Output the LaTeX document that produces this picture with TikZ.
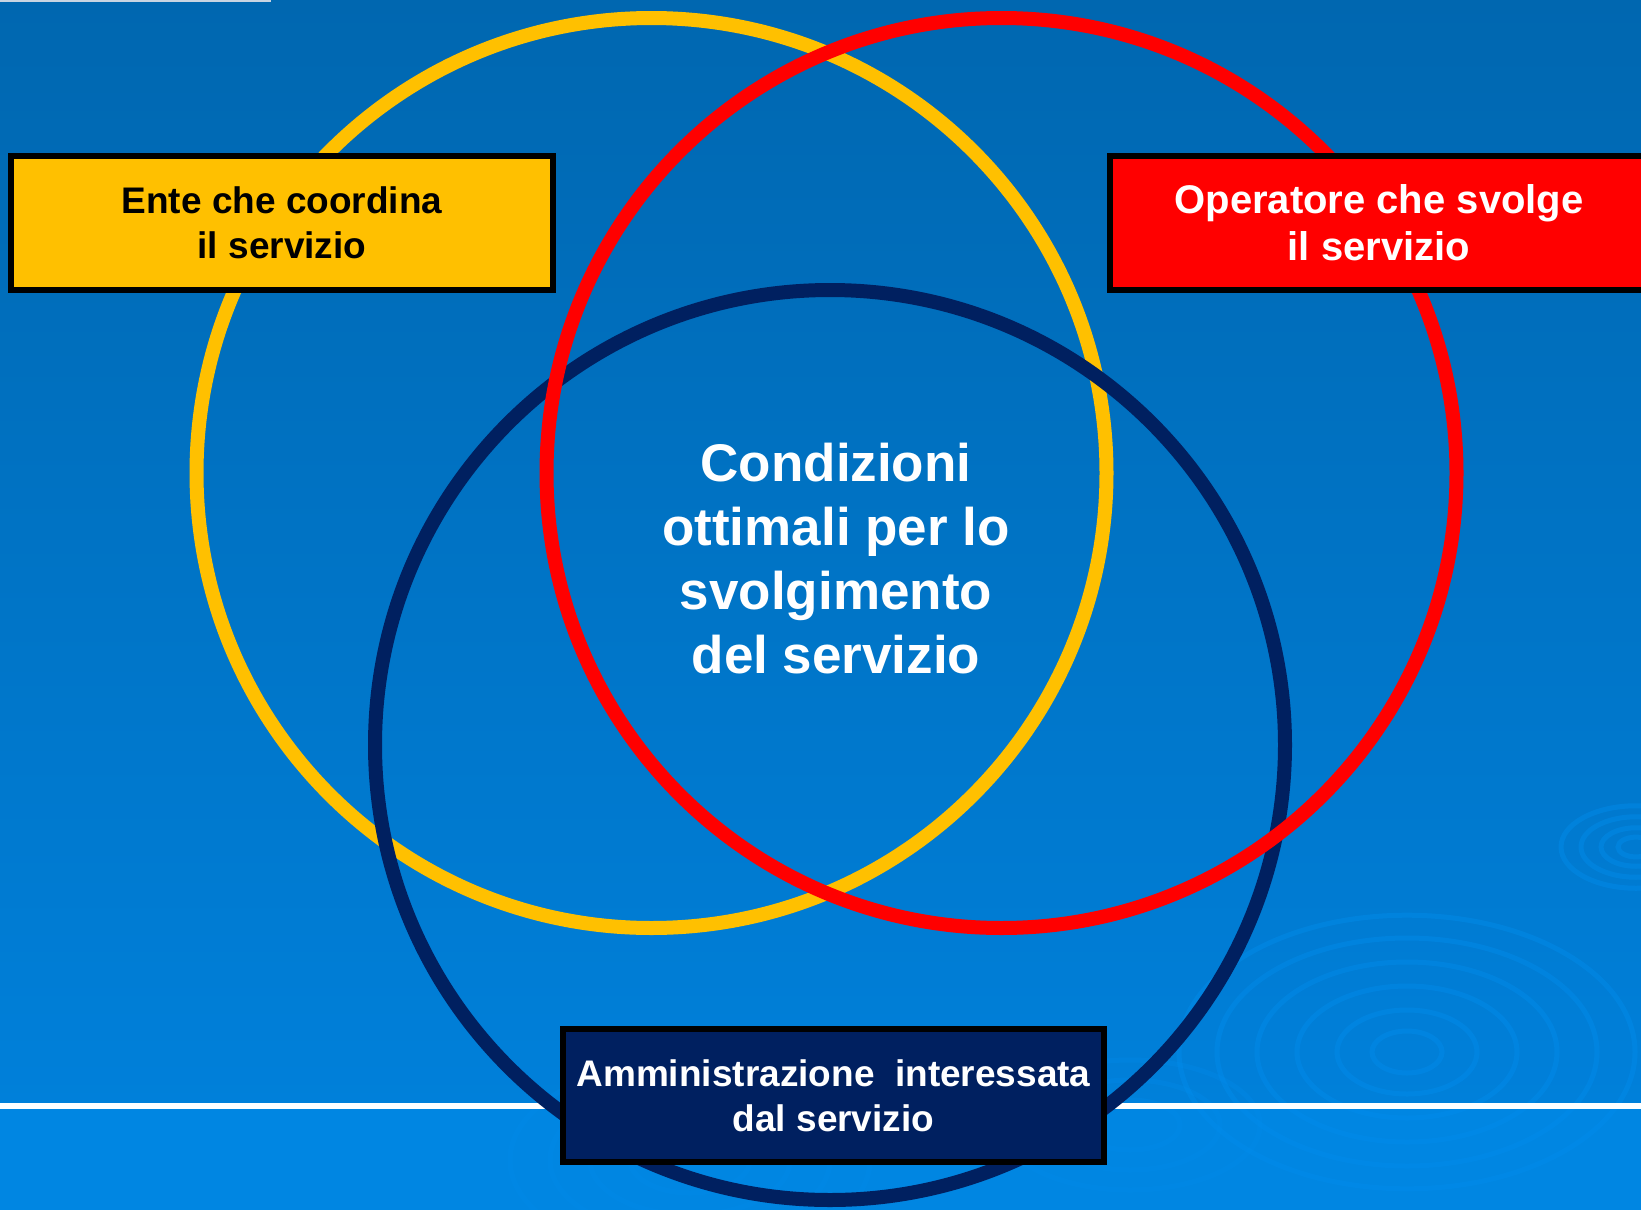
\documentclass[tikz,border=0pt]{standalone}
\usepackage{fontspec}
\setmainfont{Liberation Sans}
\definecolor{bgtop}{RGB}{0,103,176}
\definecolor{bgmid}{RGB}{0,128,218}
\definecolor{bglow}{RGB}{0,134,226}
\definecolor{ripplec}{RGB}{0,140,235}
\definecolor{cyellow}{RGB}{255,192,0}
\definecolor{cred}{RGB}{255,0,0}
\definecolor{cnavy}{RGB}{0,32,96}
\definecolor{topline}{RGB}{200,212,226}
\tikzset{
  ring/.style={circle, draw=#1, line width=14pt, minimum size=910pt, inner sep=0pt, fill=none},
  labelbox/.style={draw=black, line width=6pt, fill=#1, inner sep=0pt, align=center},
  ripple/.style={draw=ripplec, line width=5pt, opacity=0.45},
  boxtext/.style={font=\fontsize{37}{45}\selectfont\bfseries},
}
\begin{document}
\begin{tikzpicture}[x=1pt,y=-1pt]
\useasboundingbox (0,0) rectangle (1641,1210);
% background
\shade[top color=bgtop, bottom color=bgmid] (0,0) rectangle (1641,1106);
\fill[bglow] (0,1106) rectangle (1641,1210);
% ripples
\begin{scope}
\clip (0,0) rectangle (1641,1210);
\foreach \r in {35,70,110,150,190,228}
  \draw[ripple] (1407,1052) ellipse [x radius=\r, y radius=0.6*\r];
\foreach \r in {18,35,55,75}
  \draw[ripple] (1636,847) ellipse [x radius=\r, y radius=0.55*\r];
\foreach \r in {60,100,140,180}
  \draw[ripple, opacity=0.3] (690,1160) ellipse [x radius=\r, y radius=0.55*\r];
\foreach \r in {50,90,130}
  \draw[ripple, opacity=0.3] (1130,1125) ellipse [x radius=\r, y radius=0.5*\r];
\end{scope}
% lines
\draw[white, line width=6pt] (0,1106) -- (1641,1106);
\draw[topline, line width=2pt] (0,1) -- (271,1);
% circles
\node[ring=cyellow] (cy) at (651.5,473) {};
\node[ring=cnavy] (cn) at (830,745) {};
\node[ring=cred] (cr) at (1001.5,473) {};
% boxes
\node[labelbox=cyellow, minimum width=542pt, minimum height=134pt, boxtext, text=black] (by) at (282,223) {Ente che coordina\\il servizio};
\node[labelbox=cred, minimum width=538pt, minimum height=134pt, font=\fontsize{40}{47}\selectfont\bfseries, text=white] (br) at (1379,223) {Operatore che svolge\\il servizio};
\node[labelbox=cnavy, minimum width=541pt, minimum height=133pt, boxtext, text=white] (bn) at (833.5,1095.5) {Amministrazione\ \ interessata\\dal servizio};
% centre text
\node[font=\fontsize{53}{64}\selectfont\bfseries, text=white, align=center] (ct) at (836,559) {Condizioni\\ottimali per lo\\svolgimento\\del servizio};
\end{tikzpicture}
\end{document}
